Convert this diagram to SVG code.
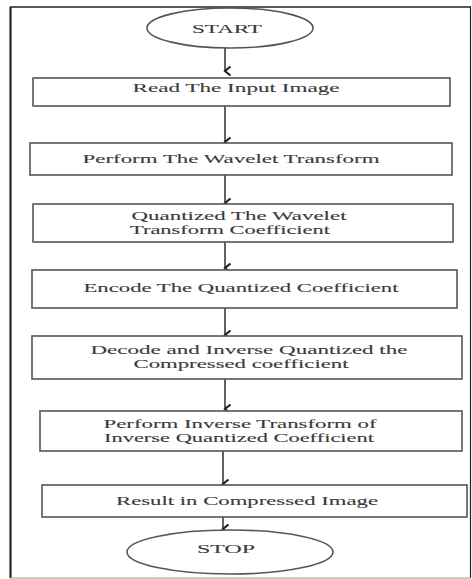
<svg xmlns="http://www.w3.org/2000/svg" width="472" height="579" viewBox="0 0 472 579">
<style>
.box{fill:#fff;stroke:#555;stroke-width:1.6}
.t{font-family:"Liberation Serif","Times New Roman",serif;font-size:11.5px;fill:#3a3a3a;text-anchor:middle;stroke:#3a3a3a;stroke-width:0.1}
.c{stroke:#222;stroke-width:1.4;fill:none}
.frame{fill:none;stroke:#222}
</style>
<defs>
<marker id="ah" viewBox="0 0 12 10" refX="6" refY="8" markerWidth="12" markerHeight="10" markerUnits="userSpaceOnUse" orient="auto">
<path d="M1.5,2.5 L6,8 L10.5,2.5" fill="none" stroke="#222" stroke-width="2.2"/>
</marker>
</defs>
<rect width="472" height="579" fill="#fff"/>
<g id="frame">
<line class="frame" x1="10" y1="7" x2="471" y2="7" stroke-width="1.5"/>
<line class="frame" x1="10.5" y1="7" x2="10.5" y2="578" stroke-width="2.2"/>
<line class="frame" x1="470.5" y1="7" x2="470.5" y2="578" stroke-width="1.2"/>
<line x1="10" y1="578" x2="471" y2="578" stroke="#999" stroke-width="1.2"/>
</g>
<g id="connectors">
<line class="c" x1="225" y1="48" x2="225" y2="71" marker-end="url(#ah)"/>
<line class="c" x1="225" y1="106" x2="225" y2="142" marker-end="url(#ah)"/>
<line class="c" x1="225" y1="175" x2="225" y2="203" marker-end="url(#ah)"/>
<line class="c" x1="225" y1="242" x2="225" y2="268" marker-end="url(#ah)"/>
<line class="c" x1="225" y1="308" x2="225" y2="335" marker-end="url(#ah)"/>
<line class="c" x1="225" y1="379" x2="225" y2="409" marker-end="url(#ah)"/>
<line class="c" x1="223" y1="451" x2="223" y2="484" marker-end="url(#ah)"/>
<line class="c" x1="223" y1="517" x2="223" y2="529" marker-end="url(#ah)"/>
</g>
<g id="start">
<ellipse class="box" cx="230" cy="28" rx="83" ry="20"/>
<text class="t" x="227" y="33" textLength="70" lengthAdjust="spacingAndGlyphs">START</text>
</g>
<g id="read">
<rect class="box" x="33" y="78" width="417" height="28"/>
<text class="t" x="236" y="91.5" textLength="207" lengthAdjust="spacingAndGlyphs">Read The Input Image</text>
</g>
<g id="wavelet">
<rect class="box" x="30" y="143" width="422" height="32"/>
<text class="t" x="231" y="162.5" textLength="297" lengthAdjust="spacingAndGlyphs">Perform The Wavelet Transform</text>
</g>
<g id="quantize">
<rect class="box" x="33" y="204" width="420" height="38"/>
<text class="t" x="239" y="220" textLength="215" lengthAdjust="spacingAndGlyphs">Quantized The Wavelet</text>
<text class="t" x="230" y="233.5" textLength="200" lengthAdjust="spacingAndGlyphs">Transform Coefficient</text>
</g>
<g id="encode">
<rect class="box" x="32" y="270" width="425" height="38"/>
<text class="t" x="241" y="291.5" textLength="315" lengthAdjust="spacingAndGlyphs">Encode The Quantized Coefficient</text>
</g>
<g id="decode">
<rect class="box" x="32" y="336" width="430" height="43"/>
<text class="t" x="249" y="354" textLength="317" lengthAdjust="spacingAndGlyphs">Decode and Inverse Quantized the</text>
<text class="t" x="241" y="367.5" textLength="215" lengthAdjust="spacingAndGlyphs">Compressed coefficient</text>
</g>
<g id="inverse">
<rect class="box" x="40" y="411" width="422" height="40"/>
<text class="t" x="240" y="428" textLength="273" lengthAdjust="spacingAndGlyphs">Perform Inverse Transform of</text>
<text class="t" x="239" y="441.5" textLength="270" lengthAdjust="spacingAndGlyphs">Inverse Quantized Coefficient</text>
</g>
<g id="result">
<rect class="box" x="42" y="485" width="425" height="32"/>
<text class="t" x="247" y="504.5" textLength="262" lengthAdjust="spacingAndGlyphs">Result in Compressed Image</text>
</g>
<g id="stop">
<ellipse class="box" cx="230" cy="552" rx="103" ry="22"/>
<text class="t" x="226" y="552.5" textLength="58" lengthAdjust="spacingAndGlyphs">STOP</text>
</g>
</svg>
